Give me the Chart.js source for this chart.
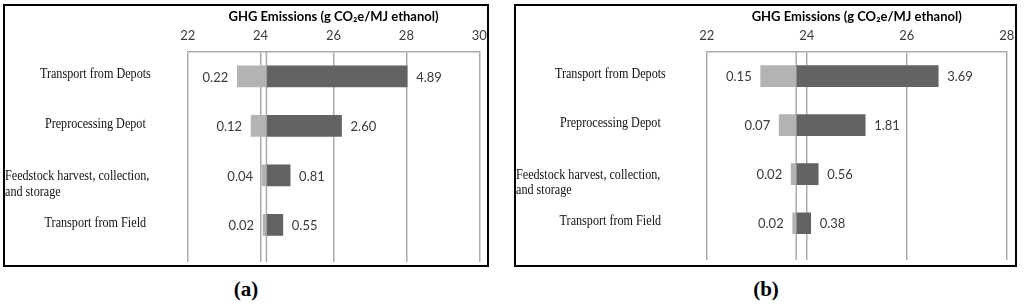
<!DOCTYPE html>
<html>
<head>
<meta charset="utf-8">
<script src="https://cdn.jsdelivr.net/npm/chart.js@4.4.1/dist/chart.umd.min.js"></script>
<style>
  body { margin: 0; background: #fff; width: 1024px; height: 307px; position: relative; overflow: hidden; }
  .panel { position: absolute; top: 4px; height: 263px; overflow: hidden; background: #fff; }
  .frame { position: absolute; top: 4px; height: 263px; border: 2px solid #000; box-sizing: border-box; }
  .cap { position: absolute; top: 277px; width: 100px; font: bold 21px "Liberation Serif"; line-height: 24px; text-align: center; color: #000; }
</style>
</head>
<body>
<div class="panel" style="left:3px;width:486px"><canvas id="chartA" width="492" height="263"></canvas></div>
<div class="frame" style="left:3px;width:486px"></div>
<div class="panel" style="left:514px;width:503px"><canvas id="chartB" width="511" height="263"></canvas></div>
<div class="frame" style="left:514px;width:503px"></div>
<div class="cap" style="left:196px">(a)</div>
<div class="cap" style="left:716px">(b)</div>
<script>
// categories (top to bottom)
var categories = ['Transport from Depots', 'Preprocessing Depot', ['Feedstock harvest, collection,', 'and storage'], 'Transport from Field'];

// panel (a)
var baseA = 24.16;
var lowA = [23.36, 23.74, 24.04, 24.07];
var highA = [28.02, 26.22, 24.81, 24.61];
var lowLabelsA = ['0.22', '0.12', '0.04', '0.02'];
var highLabelsA = ['4.89', '2.60', '0.81', '0.55'];
var ticksA = [22, 24, 26, 28, 30];

// panel (b)
var baseB = 23.79;
var lowB = [23.08, 23.45, 23.69, 23.72];
var highB = [26.63, 25.17, 24.23, 24.08];
var lowLabelsB = ['0.15', '0.07', '0.02', '0.02'];
var highLabelsB = ['3.69', '1.81', '0.56', '0.38'];
var ticksB = [22, 24, 26, 28];

var axisTitle = 'GHG Emissions (g CO\u2082e/MJ ethanol)';
var gridColor = '#ababab';

function tornadoPlugin(base, lowVals, highVals, lowLabels, highLabels) {
    return {
        id: 'tornado',
        beforeDatasetsDraw: function(chart) {
            var ctx = chart.ctx, area = chart.chartArea, x = chart.scales.x;
            var px = x.getPixelForValue(base);
            ctx.save();
            ctx.strokeStyle = gridColor;
            ctx.lineWidth = 1.5;
            ctx.beginPath();
            ctx.moveTo(px, area.top);
            ctx.lineTo(px, area.bottom);
            ctx.stroke();
            ctx.restore();
        },
        afterDatasetsDraw: function(chart) {
            var ctx = chart.ctx, area = chart.chartArea, x = chart.scales.x, y = chart.scales.y;
            ctx.save();
            // value labels
            ctx.font = '13px Lato';
            ctx.fillStyle = '#3a3a3a';
            ctx.textBaseline = 'middle';
            categories.forEach(function(c, i) {
                var py = y.getPixelForValue(i) + 1;
                ctx.textAlign = 'right';
                ctx.fillText(lowLabels[i], x.getPixelForValue(lowVals[i]) - 9, py);
                ctx.textAlign = 'left';
                ctx.fillText(highLabels[i], x.getPixelForValue(highVals[i]) + 9, py);
            });
            // category labels
            ctx.font = '15px "Liberation Serif"';
            ctx.fillStyle = '#111';
            ctx.textBaseline = 'alphabetic';
            categories.forEach(function(c, i) {
                var py = y.getPixelForValue(i);
                var lines = Array.isArray(c) ? c : [c];
                lines.forEach(function(line, k) {
                    ctx.save();
                    if (Array.isArray(c)) {
                        ctx.translate(2, py + 5 + k * 15.3);
                        ctx.textAlign = 'left';
                    } else {
                        ctx.translate(area.left / 2, py + 2);
                        ctx.textAlign = 'center';
                    }
                    ctx.scale(0.81, 1);
                    ctx.fillText(line, 0, 0);
                    ctx.restore();
                });
            });
            ctx.restore();
        }
    };
}

function makeChart(id, base, lowVals, highVals, lowLabels, highLabels, ticks, pad) {
    var ctx = document.getElementById(id).getContext('2d');
    return new Chart(ctx, {
        type: 'bar',
        data: {
            datasets: [
                {
                    data: categories.map(function(c, i) { return { x: [lowVals[i], base], y: i }; }),
                    backgroundColor: '#b3b3b3',
                    grouped: false,
                    barThickness: 21
                },
                {
                    data: categories.map(function(c, i) { return { x: [base, highVals[i]], y: i }; }),
                    backgroundColor: '#636363',
                    grouped: false,
                    barThickness: 21
                }
            ]
        },
        options: {
            indexAxis: 'y',
            responsive: false,
            animation: false,
            devicePixelRatio: 1,
            layout: { padding: pad },
            scales: {
                x: {
                    position: 'top',
                    min: ticks[0],
                    max: ticks[ticks.length - 1],
                    afterBuildTicks: function(s) { s.ticks = ticks.map(function(v) { return { value: v }; }); },
                    grid: { color: gridColor, lineWidth: 1.5, drawTicks: false },
                    border: { display: true, color: gridColor, width: 1.5 },
                    ticks: { padding: 8, color: '#3a3a3a', font: { family: 'Lato', size: 13 } },
                    title: {
                        display: true,
                        text: axisTitle,
                        color: '#000',
                        font: { family: 'Lato', size: 13, weight: 'bold' },
                        padding: { top: 4.7, bottom: -4.3 }
                    }
                },
                y: { type: 'linear', display: false, reverse: true, offset: false, min: -0.5, max: 3.75 }
            },
            plugins: {
                legend: { display: false },
                tooltip: { enabled: false }
            }
        },
        plugins: [tornadoPlugin(base, lowVals, highVals, lowLabels, highLabels)]
    });
}

makeChart('chartA', baseA, lowA, highA, lowLabelsA, highLabelsA, ticksA, { left: 184.7, right: 15.7, top: 0, bottom: 5 });
makeChart('chartB', baseB, lowB, highB, lowLabelsB, highLabelsB, ticksB, { left: 192.7, right: 18.3, top: 0, bottom: 7 });
</script>
</body>
</html>
